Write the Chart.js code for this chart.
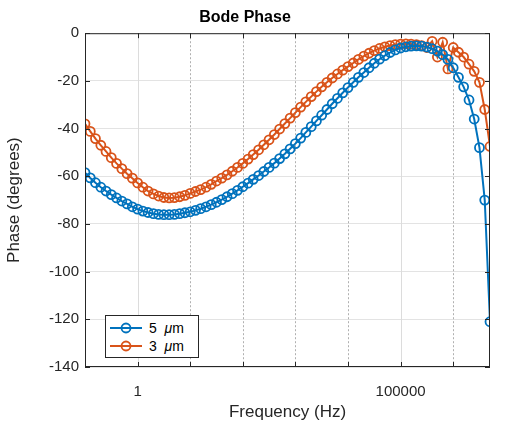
<!DOCTYPE html>
<html><head><meta charset="utf-8">
<script src="https://cdn.jsdelivr.net/npm/chart.js@4/dist/chart.umd.min.js"></script>
<style>
html,body{margin:0;padding:0;background:#fff;}
#wrap{position:relative;width:515px;height:427px;}
#legend{position:absolute;left:105px;top:315px;width:94px;height:43px;border:1px solid #262626;background:#fff;font-family:"Liberation Sans",Arial,sans-serif;font-size:14px;color:#000;box-sizing:border-box;padding-top:3px;}
.row{display:flex;align-items:center;height:18px;}
.row svg{margin-left:3px;margin-right:6px;}
</style></head><body>
<div id="wrap"><canvas id="c" width="515" height="427"></canvas>
<div id="legend">
<div class="row"><svg width="34" height="12"><line x1="1" y1="6" x2="33" y2="6" stroke="#0072BD" stroke-width="2"/><circle cx="17" cy="6" r="4.5" fill="none" stroke="#0072BD" stroke-width="1.8"/></svg><span>5&nbsp;&nbsp;<i>μ</i>m</span></div>
<div class="row"><svg width="34" height="12"><line x1="1" y1="6" x2="33" y2="6" stroke="#D95319" stroke-width="2"/><circle cx="17" cy="6" r="4.5" fill="none" stroke="#D95319" stroke-width="1.8"/></svg><span>3&nbsp;&nbsp;<i>μ</i>m</span></div>
</div></div>
<script>
const freq = [0.1,0.126,0.158,0.2,0.251,0.316,0.398,0.501,0.631,0.794,
1,1.26,1.58,2,2.51,3.16,3.98,5.01,6.31,7.94,
10,12.6,15.8,20,25.1,31.6,39.8,50.1,63.1,79.4,
100,126,158,200,251,316,398,501,631,794,
1000,1260,1580,2000,2510,3160,3980,5010,6310,7940,
10000,12600,15800,20000,25100,31600,39800,50100,63100,79400,
100000,126000,158000,200000,251000,316000,398000,501000,631000,794000,
1000000,1260000,1580000,2000000,2510000,3160000,3980000,5010000];
const phase5 = [-58.5,-60.7,-62.7,-64.6,-66.2,-67.7,-69.1,-70.4,-71.6,-72.8,
-73.8,-74.6,-75.2,-75.7,-76.0,-76.1,-76.1,-76.0,-75.7,-75.3,
-74.9,-74.3,-73.6,-72.8,-71.9,-70.9,-69.8,-68.6,-67.3,-65.9,
-64.4,-62.9,-61.3,-59.7,-58.0,-56.3,-54.5,-52.6,-50.6,-48.5,
-46.3,-44.0,-41.6,-39.2,-36.8,-34.4,-32.0,-29.6,-27.3,-25.0,
-22.8,-20.6,-18.5,-16.5,-14.5,-12.6,-10.9,-9.4,-8.1,-7.0,
-6.2,-5.7,-5.4,-5.3,-5.4,-5.8,-6.5,-7.5,-9.0,-11.0,
-14.5,-18.5,-22.5,-28.0,-36.0,-48.0,-70.0,-121.0];
const phase3 = [-38.0,-41.2,-44.2,-47.0,-49.6,-52.2,-54.6,-56.8,-58.9,-60.8,
-62.8,-64.6,-66.2,-67.4,-68.3,-68.9,-69.1,-69.0,-68.6,-68.0,
-67.2,-66.4,-65.6,-64.6,-63.4,-62.0,-60.8,-59.4,-57.9,-56.3,
-54.6,-52.8,-50.9,-48.9,-46.8,-44.7,-42.5,-40.2,-37.9,-35.6,
-33.3,-31.0,-28.8,-26.6,-24.5,-22.5,-20.6,-18.8,-17.1,-15.5,
-14.0,-12.5,-11.0,-9.6,-8.4,-7.3,-6.4,-5.7,-5.2,-4.8,
-4.6,-4.5,-4.6,-4.8,-5.2,-6.0,-3.4,-10.0,-3.8,-15.0,
-6.0,-8.0,-10.0,-13.0,-16.0,-20.6,-32.0,-47.5];
const xLabelTicks = [1, 100000];
const xGridDecades = [0.1,1,10,100,1000,10000,100000,1000000];
const yTicks = [0,-20,-40,-60,-80,-100,-120,-140];
const seriesNames = ['5 μm','3 μm'];

const FONT = '"Liberation Sans", Arial, sans-serif';
const boxPlugin = {
  id:'box',
  beforeDatasetsDraw(chart){
    const {ctx, chartArea:a, scales:{x}} = chart;
    ctx.save();
    xGridDecades.forEach(v=>{
      const px = Math.round(x.getPixelForValue(v))+0.5;
      if (px < a.left+1 || px > a.right-1) return;
      ctx.beginPath();
      if (xLabelTicks.includes(v)) { ctx.setLineDash([]); ctx.strokeStyle='#dcdcdc'; }
      else { ctx.setLineDash([2,2]); ctx.strokeStyle='#b0b0b0'; }
      ctx.lineWidth=1; ctx.moveTo(px,a.top); ctx.lineTo(px,a.bottom); ctx.stroke();
    });
    ctx.restore();
  },
  afterDatasetsDraw(chart){
    const {ctx, chartArea:a, scales:{x,y}} = chart;
    ctx.save();
    ctx.strokeStyle='#262626'; ctx.lineWidth=1; ctx.setLineDash([]);
    ctx.strokeRect(a.left+0.5,a.top+0.5,a.right-a.left-1,a.bottom-a.top-1);
    ctx.beginPath();
    xGridDecades.forEach(v=>{
      const px = Math.round(x.getPixelForValue(v))+0.5;
      if (px < a.left+1 || px > a.right-1) return;
      ctx.moveTo(px,a.bottom); ctx.lineTo(px,a.bottom-5);
      ctx.moveTo(px,a.top); ctx.lineTo(px,a.top+5);
    });
    yTicks.forEach(v=>{
      const py = Math.round(y.getPixelForValue(v))+0.5;
      ctx.moveTo(a.left,py); ctx.lineTo(a.left+5,py);
      ctx.moveTo(a.right,py); ctx.lineTo(a.right-5,py);
    });
    ctx.stroke();
    ctx.restore();
  }
};

const mk = (vals)=>freq.map((f,i)=>({x:f,y:vals[i]}));
new Chart(document.getElementById('c'), {
  type:'line',
  data:{datasets:[
    {label:seriesNames[0],data:mk(phase5),borderColor:'#0072BD',borderWidth:2,pointRadius:4.5,pointBorderWidth:1.8,pointBackgroundColor:'rgba(0,0,0,0)',pointBorderColor:'#0072BD',tension:0},
    {label:seriesNames[1],data:mk(phase3),borderColor:'#D95319',borderWidth:2,pointRadius:4.5,pointBorderWidth:1.8,pointBackgroundColor:'rgba(0,0,0,0)',pointBorderColor:'#D95319',tension:0}
  ]},
  options:{
    responsive:false, animation:false,
    layout:{padding:{left:0,right:25,top:0,bottom:0}},
    plugins:{
      legend:{display:false}, tooltip:{enabled:false},
      title:{display:true,text:'Bode Phase',color:'#000',font:{family:FONT,size:16,weight:'bold'},padding:{top:8,bottom:6}}
    },
    scales:{
      x:{type:'logarithmic',min:0.1,max:5010000,
        afterBuildTicks(s){ s.ticks = xLabelTicks.map(v=>({value:v})); },
        afterFit(s){ s.height = 60; },
        grid:{display:false}, border:{display:false},
        ticks:{color:'#262626',font:{family:FONT,size:15},padding:8,maxRotation:0,autoSkip:false,callback:(v)=>String(v)},
        title:{display:true,text:'Frequency (Hz)',color:'#262626',font:{family:FONT,size:17},padding:{top:0}}
      },
      y:{min:-140,max:0,
        afterBuildTicks(s){ s.ticks = yTicks.map(v=>({value:v})); },
        afterFit(s){ s.width = 85; },
        grid:{color:'#e3e3e3',drawTicks:false}, border:{display:false},
        ticks:{color:'#262626',font:{family:FONT,size:15},padding:6},
        title:{display:true,text:'Phase (degrees)',color:'#262626',font:{family:FONT,size:17},padding:{bottom:2}}
      }
    }
  },
  plugins:[boxPlugin]
});
</script></body></html>
